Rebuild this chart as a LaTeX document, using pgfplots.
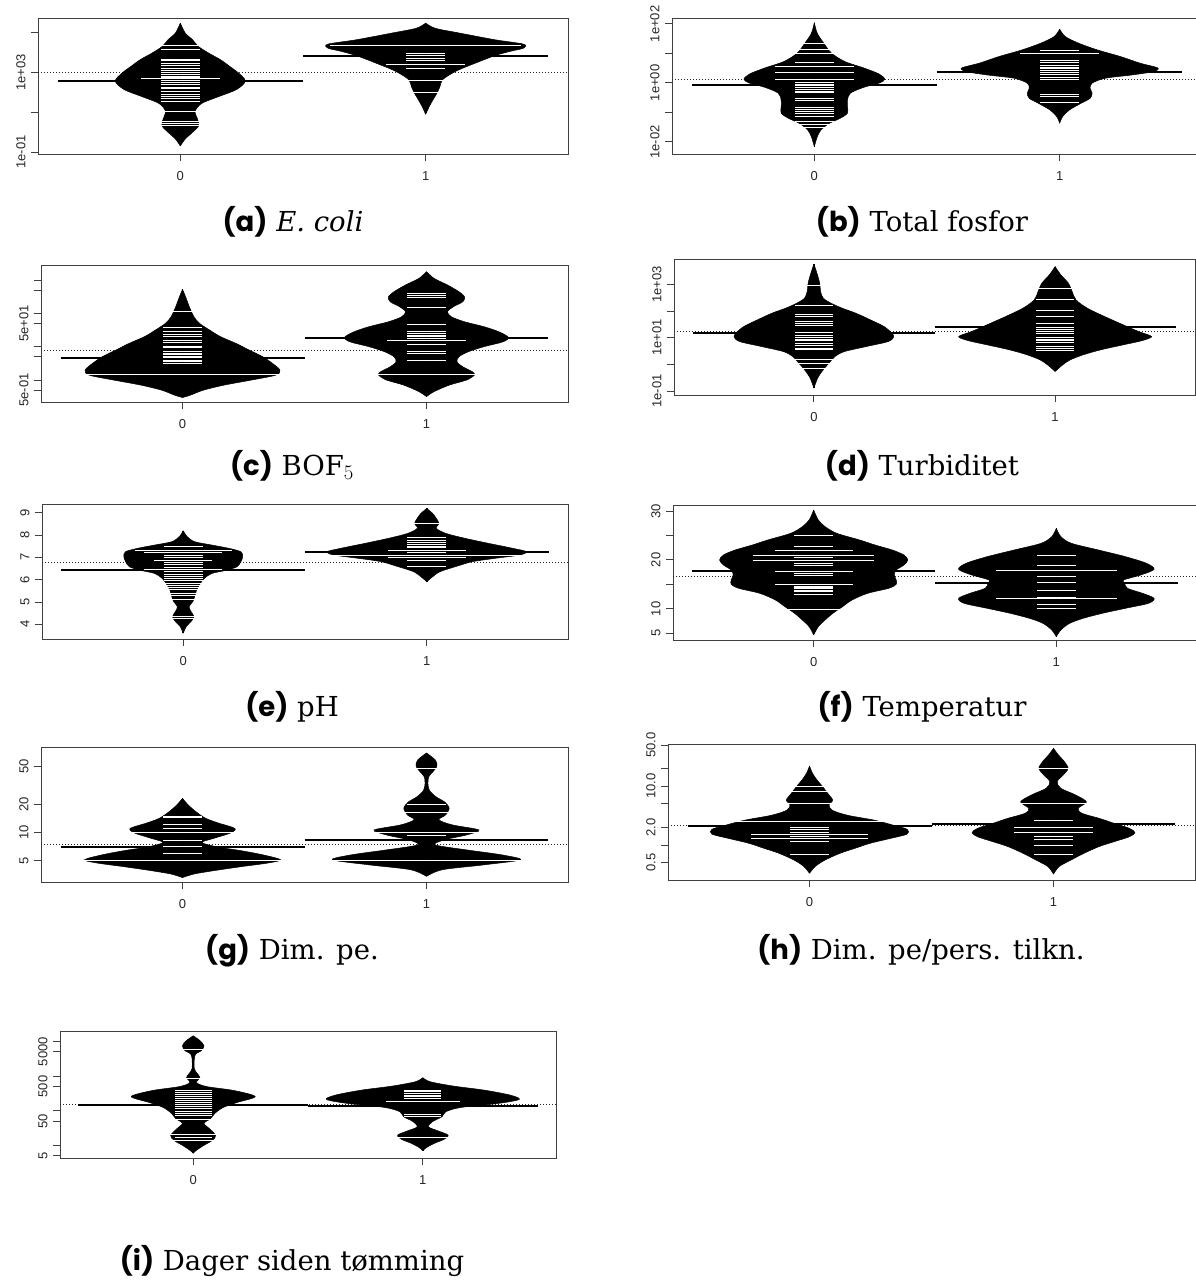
\documentclass[border=0pt]{standalone}
\usepackage{fontspec}
\setmainfont{DejaVu Serif}
\newfontfamily\lib{Liberation Sans}
\newfontfamily\pop{Poppins}
\usepackage{pgfplots}
\usepackage{pgfplotstable}
\pgfplotsset{compat=1.18}

% ---------------- (a) E. coli
\pgfplotstableread{
y w
3.1e5 0
9.8e4 0.02
4.5e4 0.05
2.1e4 0.073
9.8e3 0.114
4.5e3 0.163
2.1e3 0.20
955 0.237
372 0.265
141 0.23
66 0.163
31 0.094
17.4 0.069
9.8 0.06
4.6 0.07
2.1 0.075
0.98 0.05
0.45 0.02
0.20 0
}\pAa
\pgfplotstableread{
y L
2.3e4 0.16
1.4e4 0.08
4.8e3 0.08
4.0e3 0.08
3.0e3 0.08
2.4e3 0.08
1.7e3 0.08
1.3e3 0.08
960 0.08
760 0.08
660 0.08
580 0.08
500 0.16
400 0.08
300 0.08
240 0.08
185 0.08
150 0.08
117 0.08
79 0.08
63 0.08
50 0.08
37 0.08
10.4 0.08
3.4 0.08
2.8 0.08
2.1 0.16
}\lAa
\pgfplotstableread{
y w
3.1e5 0
1.7e5 0.039
9.6e4 0.141
4.5e4 0.282
2.7e4 0.399
1.7e4 0.399
1.17e4 0.344
7.1e3 0.282
3.0e3 0.203
1.2e3 0.125
450 0.070
210 0.059
96 0.047
45 0.031
21 0.016
7.9 0
}\pAb
\pgfplotstableread{
y L
2.3e4 0.39
8.9e3 0.08
7.1e3 0.08
5.4e3 0.08
4.0e3 0.08
2.5e3 0.16
1.6e3 0.08
400 0.08
96 0.08
}\lAb
% ---------------- (b) Total fosfor
\pgfplotstableread{
y w
110 0
48 0.012
22 0.039
10.2 0.070
5.3 0.124
3.2 0.202
2.0 0.264
1.33 0.287
0.98 0.264
0.71 0.202
0.45 0.147
0.26 0.135
0.158 0.135
0.094 0.135
0.063 0.105
0.043 0.062
0.026 0.028
0.015 0.012
0.0069 0
}\pBa
\pgfplotstableread{
y L
21 0.08
14 0.08
10.2 0.08
5.0 0.08
3.6 0.16
2.3 0.16
1.33 0.16
1.02 0.08
0.90 0.08
0.79 0.08
0.69 0.08
0.61 0.08
0.53 0.08
0.47 0.08
0.29 0.08
0.25 0.08
0.15 0.08
0.13 0.08
0.107 0.08
0.089 0.08
0.072 0.08
0.049 0.08
0.038 0.08
0.031 0.08
}\lBa
\pgfplotstableread{
y w
66 0
37 0.023
22 0.078
13 0.155
7.8 0.248
4.7 0.326
3.2 0.40
2.4 0.38
1.86 0.295
1.44 0.186
0.98 0.132
0.66 0.124
0.45 0.132
0.30 0.124
0.20 0.085
0.12 0.039
0.072 0.012
0.043 0
}\pBb
\pgfplotstableread{
y L
12.5 0.08
10.2 0.16
5.6 0.08
5.0 0.08
3.9 0.08
3.4 0.08
3.0 0.08
2.6 0.08
2.2 0.08
1.86 0.08
1.56 0.08
1.33 0.08
0.41 0.08
0.36 0.08
0.21 0.08
}\lBb
% ---------------- (c) BOF5
\pgfplotstableread{
y w
525 0
316 0.0125
158 0.028
79 0.047
50 0.070
32 0.110
20 0.156
12.6 0.219
7.9 0.274
5.0 0.329
3.2 0.368
2.0 0.399
1.41 0.383
1.0 0.282
0.71 0.172
0.50 0.086
0.35 0.031
0.30 0
}\pCa
\pgfplotstableread{
y L
112 0.08
38 0.08
29.5 0.08
24 0.08
20 0.08
15.8 0.08
13.2 0.08
10.5 0.08
9.3 0.08
7.1 0.08
6.3 0.08
5.9 0.08
5.2 0.08
4.8 0.08
4.0 0.08
3.5 0.08
3.2 0.08
1.48 0.48
}\lCa
\pgfplotstableread{
y w
1780 0
1120 0.031
710 0.086
447 0.133
316 0.156
224 0.149
158 0.110
112 0.086
79 0.102
56 0.156
40 0.235
28 0.297
19 0.336
14 0.313
10 0.235
7.1 0.172
5.0 0.133
3.5 0.125
2.5 0.149
1.78 0.188
1.41 0.196
1.0 0.164
0.71 0.094
0.45 0.031
0.32 0
}\pCb
\pgfplotstableread{
y L
400 0.08
340 0.08
295 0.08
150 0.08
48 0.08
29.5 0.08
25 0.08
22 0.08
20 0.08
17.8 0.08
15.8 0.16
11.7 0.08
7.1 0.08
6.3 0.08
4.0 0.08
1.48 0.32
}\lCb
% ---------------- (d) Turbiditet
\pgfplotstableread{
y w
5700 0
2600 0.0126
1100 0.024
525 0.028
300 0.039
195 0.071
126 0.118
83 0.173
47 0.233
26 0.291
14.8 0.323
10.5 0.331
7.1 0.307
4.7 0.220
3.0 0.126
1.95 0.087
1.12 0.063
0.63 0.039
0.31 0.016
0.129 0
}\pDa
\pgfplotstableread{
y L
870 0.08
155 0.08
76 0.08
62 0.08
40 0.08
33 0.08
27.5 0.08
15.5 0.08
12.6 0.08
10.5 0.08
8.7 0.08
7.6 0.08
6.2 0.08
5.0 0.08
4.1 0.08
3.5 0.08
1.48 0.08
1.12 0.08
0.72 0.08
}\lDa
\pgfplotstableread{
y w
4600 0
2240 0.024
1100 0.055
525 0.071
257 0.087
126 0.134
62 0.205
30 0.283
17 0.346
11 0.40
7.8 0.362
5.4 0.283
3.5 0.189
2.3 0.118
1.48 0.063
0.95 0.031
0.54 0
}\pDb
\pgfplotstableread{
y L
710 0.08
275 0.08
102 0.08
62 0.08
35 0.08
24.5 0.08
19.5 0.08
17 0.08
14.8 0.08
12.6 0.08
11.7 0.08
10.5 0.08
8.7 0.08
7.8 0.08
6.6 0.08
4.7 0.08
4.1 0.08
3.2 0.08
}\lDb
% ---------------- (e) pH
\pgfplotstableread{
y w
8.19 0
7.93 0.016
7.70 0.047
7.55 0.118
7.40 0.189
7.25 0.237
7.03 0.244
6.81 0.237
6.58 0.221
6.43 0.181
6.28 0.118
6.06 0.087
5.84 0.071
5.54 0.055
5.24 0.047
5.01 0.039
4.79 0.024
4.57 0.032
4.34 0.044
4.12 0.032
3.90 0.0126
3.60 0
}\pEa
\pgfplotstableread{
y L
7.48 0.08
7.30 0.20
7.22 0.16
7.10 0.08
6.99 0.08
6.88 0.12
6.76 0.08
6.66 0.08
6.55 0.08
6.46 0.16
6.36 0.08
6.25 0.08
6.16 0.08
6.06 0.08
5.96 0.08
5.84 0.08
5.73 0.08
5.64 0.08
5.54 0.08
5.39 0.08
5.27 0.08
5.13 0.16
4.34 0.08
4.27 0.08
}\lEa
\pgfplotstableread{
y w
9.19 0
8.97 0.024
8.75 0.039
8.52 0.050
8.30 0.039
8.07 0.079
7.85 0.158
7.63 0.252
7.40 0.355
7.25 0.41
7.10 0.38
6.96 0.284
6.81 0.189
6.61 0.126
6.36 0.055
6.13 0.024
5.91 0
}\pEb
\pgfplotstableread{
y L
8.52 0.08
7.90 0.08
7.75 0.08
7.67 0.08
7.58 0.08
7.51 0.08
7.43 0.08
7.33 0.16
7.21 0.08
7.10 0.44
6.99 0.16
6.84 0.08
6.61 0.08
}\lEb
% ---------------- (f) Temperatur
\pgfplotstableread{
y w
30.2 0
28.16 0.019
26.80 0.047
25.44 0.095
24.07 0.190
23.05 0.253
22.03 0.324
21.01 0.372
19.99 0.388
18.96 0.372
17.94 0.340
16.92 0.332
15.90 0.340
15.01 0.340
14.20 0.309
13.17 0.222
11.81 0.158
10.45 0.119
9.09 0.079
7.72 0.047
6.36 0.019
4.66 0
}\pFa
\pgfplotstableread{
y L
25.10 0.08
22.85 0.08
21.89 0.16
20.87 0.25
20.46 0.08
19.99 0.25
19.31 0.08
18.96 0.08
17.60 0.16
17.26 0.08
16.92 0.08
15.01 0.16
14.67 0.08
14.40 0.08
14.13 0.08
13.86 0.08
13.52 0.08
13.04 0.08
9.97 0.16
}\lFa
\pgfplotstableread{
y w
26.46 0
24.75 0.019
23.39 0.063
22.03 0.174
20.67 0.285
19.31 0.372
18.08 0.403
16.92 0.348
15.90 0.277
15.22 0.282
14.20 0.293
13.17 0.356
12.15 0.403
11.13 0.380
10.11 0.285
9.09 0.190
8.07 0.111
7.04 0.055
5.68 0.019
4.32 0
}\pFb
\pgfplotstableread{
y L
20.87 0.08
18.83 0.08
17.94 0.25
16.58 0.08
15.35 0.08
13.86 0.08
12.36 0.08
12.08 0.25
10.93 0.08
10.11 0.08
}\lFb
% ---------------- (g) Dim. pe.
\pgfplotstableread{
y w
23 0
19.5 0.024
16.6 0.055
14.1 0.095
12.5 0.150
11.0 0.215
9.8 0.195
8.6 0.126
7.8 0.080
7.0 0.142
6.4 0.237
5.75 0.331
5.1 0.402
4.7 0.347
4.3 0.237
3.9 0.126
3.6 0.047
3.3 0
}\pGa
\pgfplotstableread{
y L
14.9 0.08
14.3 0.08
12.2 0.08
11.0 0.08
10.0 0.48
8.2 0.08
7.0 0.08
6.0 0.08
5.0 0.48
}\lGa
\pgfplotstableread{
y w
70 0
59 0.036
51 0.043
44 0.026
39 0.009
33 0.006
28 0.012
24 0.038
21 0.075
18 0.093
15.3 0.078
13.6 0.051
12 0.106
10.6 0.215
9.4 0.165
8.3 0.072
7.35 0.036
6.5 0.165
5.75 0.31
5.1 0.385
4.5 0.233
4.0 0.065
3.4 0
}\pGb
\pgfplotstableread{
y L
48 0.08
20 0.08
16.2 0.16
10.0 0.40
9.2 0.08
5.0 0.42
}\lGb
% ---------------- (h) Dim. pe/pers. tilkn.
\pgfplotstableread{
y w
22 0
16.5 0.0124
12.7 0.031
9.8 0.054
7.5 0.075
5.8 0.095
4.8 0.080
3.9 0.093
3.2 0.156
2.65 0.264
2.18 0.342
1.85 0.40
1.53 0.40
1.30 0.334
1.07 0.249
0.88 0.187
0.72 0.124
0.55 0.062
0.43 0.023
0.33 0
}\pHa
\pgfplotstableread{
y L
10.0 0.08
8.05 0.08
5.1 0.24
2.5 0.40
1.97 0.08
1.87 0.08
1.64 0.08
1.53 0.24
1.42 0.08
1.30 0.24
1.14 0.08
0.70 0.08
}\lHa
\pgfplotstableread{
y w
44 0
34 0.02
26 0.045
20 0.06
15.5 0.04
11.9 0.015
9.2 0.03
7.1 0.09
5.4 0.135
4.2 0.101
3.45 0.117
2.84 0.187
2.33 0.249
1.92 0.311
1.62 0.334
1.38 0.311
1.14 0.249
0.94 0.187
0.72 0.124
0.55 0.070
0.43 0.023
0.32 0
}\pHb
\pgfplotstableread{
y L
20 0.08
5.1 0.16
2.65 0.08
2.0 0.16
1.64 0.16
1.42 0.08
1.26 0.08
0.97 0.08
0.70 0.08
}\lHb
% ---------------- (i) Dager siden tomming
\pgfplotstableread{
y w
14400 0
10400 0.03
7400 0.047
5300 0.035
4400 0.012
3150 0.005
1620 0.005
1170 0.018
900 0.029
640 0.015
493 0.06
380 0.178
255 0.27
171 0.19
123 0.13
83 0.094
59 0.076
43 0.047
31 0.069
19.3 0.098
13.8 0.083
10 0.047
7.1 0.013
5.9 0
}\pIa
\pgfplotstableread{
y L
5700 0.08
850 0.08
380 0.08
330 0.08
290 0.08
255 0.08
225 0.08
195 0.08
170 0.08
150 0.08
130 0.08
112 0.08
97 0.08
84 0.08
73 0.08
56 0.08
20 0.16
16.5 0.08
13.8 0.16
}\lIa
\pgfplotstableread{
y w
890 0
680 0.033
510 0.134
390 0.268
281 0.38
211 0.42
162 0.33
124 0.167
93 0.100
67 0.084
48 0.042
34 0.025
26 0.067
19.7 0.11
14.8 0.092
11.4 0.050
8.7 0.017
7.0 0
}\pIb
\pgfplotstableread{
y L
392 0.08
351 0.08
314 0.08
281 0.08
252 0.08
225 0.08
181 0.16
78 0.08
70 0.08
16.5 0.16
}\lIb

\newcommand\tickf{\lib\fontsize{13}{15}\selectfont}
\newcommand\capf{\fontsize{27.5}{32}\selectfont}
\newcommand\lab[1]{{\pop\bfseries #1}}

\pgfplotsset{bp/.style={
  scale only axis, anchor=south west,
  xmin=-0.58, xmax=1.58,
  xtick={0,1}, xticklabels={0,1},
  tick align=outside, major tick length=7pt,
  xtick pos=left, ytick pos=left,
  axis line style={draw=black!75, line width=0.9pt},
  tick style={draw=black!75, line width=0.9pt},
  minor tick length=0pt, minor tick style={draw=none},
  ticklabel style={font=\tickf, text=black!85},
  yticklabel style={rotate=90, anchor=south},
  xticklabel shift=7pt, yticklabel shift=2pt,
  clip=true,
}}

% bean: two filled halves (each implicitly closed along the centre) + centre line
\newcommand\bean[2]{%
 \addplot[fill=black, draw=black, line width=0.5pt, mark=none, smooth, tension=0.5, forget plot] table[x expr=#1+\thisrow{w}, y=y] {#2};
 \addplot[fill=black, draw=black, line width=0.5pt, mark=none, smooth, tension=0.5, forget plot] table[x expr=#1-\thisrow{w}, y=y] {#2};
 \addplot[black, line width=1.5pt, mark=none, forget plot] table[x expr=#1, y=y] {#2};
}
\newcommand\blines[2]{%
 \addplot[draw=none, mark=none, forget plot, error bars/.cd, x dir=both, x explicit, error mark=none,
   error bar style={draw=white, line width=0.9pt, blend mode=difference}]
   table[x expr=#1, y=y, x error=L] {#2};
}
\newcommand\mline[3]{\addplot[black, line width=2pt, forget plot] coordinates {(#1,#3) (#2,#3)};}
\newcommand\omean[1]{\addplot[black!85, line width=0.9pt, dash pattern=on 1.2pt off 1.8pt, forget plot] coordinates {(-0.58,#1) (1.58,#1)};}

\begin{document}
\begin{tikzpicture}
\path[use as bounding box] (0pt,0pt) rectangle (1195pt,-1280pt);
% (a)
\begin{axis}[bp, at={(38pt,-154pt)}, width=530pt, height=136pt, ymode=log, ymin=0.079, ymax=5.6e5,
  ytick={0.1,10,1000,100000}, yticklabels={1e-01,{},1e+03,{}}]
\omean{1000}
\bean{0}{\pAa}
\bean{1}{\pAb}
\mline{-0.5}{0.5}{370}
\mline{0.5}{1.5}{7100}
\blines{0}{\lAa}
\blines{1}{\lAb}
\end{axis}
% (b)
\begin{axis}[bp, at={(672pt,-154pt)}, width=530pt, height=136pt, ymode=log, ymin=0.0039, ymax=158,
  ytick={0.01,0.1,1,10,100}, yticklabels={1e-02,{},1e+00,{},1e+02}]
\omean{1.26}
\bean{0}{\pBa}
\bean{1}{\pBb}
\mline{-0.5}{0.5}{0.86}
\mline{0.5}{1.5}{2.4}
\blines{0}{\lBa}
\blines{1}{\lBb}
\end{axis}
% (c)
\begin{axis}[bp, at={(41pt,-402pt)}, width=527pt, height=137pt, ymode=log, ymin=0.22, ymax=2820,
  ytick={0.5,1,5,10,50,100,500,1000}, yticklabels={5e-01,{},{},{},5e+01,{},{},{}}]
\omean{7.9}
\bean{0}{\pCa}
\bean{1}{\pCb}
\mline{-0.5}{0.5}{4.7}
\mline{0.5}{1.5}{17.8}
\blines{0}{\lCa}
\blines{1}{\lCb}
\end{axis}
% (d)
\begin{axis}[bp, at={(674pt,-395pt)}, width=521pt, height=136pt, ymode=log, ymin=0.071, ymax=8830,
  ytick={0.1,1,10,100,1000}, yticklabels={1e-01,{},1e+01,{},1e+03}]
\omean{17.8}
\bean{0}{\pDa}
\bean{1}{\pDb}
\mline{-0.5}{0.5}{15.5}
\mline{0.5}{1.5}{24}
\blines{0}{\lDa}
\blines{1}{\lDb}
\end{axis}
% (e)
\begin{axis}[bp, at={(42pt,-639pt)}, width=526pt, height=135pt, ymin=3.34, ymax=9.39,
  ytick={4,5,6,7,8,9}, yticklabels={4,5,6,7,8,9}]
\omean{6.76}
\bean{0}{\pEa}
\bean{1}{\pEb}
\mline{-0.5}{0.5}{6.43}
\mline{0.5}{1.5}{7.25}
\blines{0}{\lEa}
\blines{1}{\lEb}
\end{axis}
% (f)
\begin{axis}[bp, at={(673pt,-640pt)}, width=524pt, height=135pt, ymin=3.63, ymax=31.23,
  ytick={5,10,15,20,25,30}, yticklabels={5,10,{},20,{},30}]
\omean{16.72}
\bean{0}{\pFa}
\bean{1}{\pFb}
\mline{-0.5}{0.5}{17.67}
\mline{0.5}{1.5}{15.22}
\blines{0}{\lFa}
\blines{1}{\lFb}
\end{axis}
% (g)
\begin{axis}[bp, at={(41pt,-882pt)}, width=527pt, height=135pt, ymode=log, ymin=2.96, ymax=81,
  ytick={5,10,20,50}, yticklabels={5,10,20,50}]
\omean{7.35}
\bean{0}{\pGa}
\bean{1}{\pGb}
\mline{-0.5}{0.5}{7.05}
\mline{0.5}{1.5}{8.3}
\blines{0}{\lGa}
\blines{1}{\lGb}
\end{axis}
% (h)
\begin{axis}[bp, at={(668pt,-880pt)}, width=527pt, height=136pt, ymode=log, ymin=0.254, ymax=52,
  ytick={0.5,1,2,5,10,20,50}, yticklabels={0.5,{},2.0,{},10.0,{},50.0}]
\omean{2.15}
\bean{0}{\pHa}
\bean{1}{\pHb}
\mline{-0.5}{0.5}{2.13}
\mline{0.5}{1.5}{2.27}
\blines{0}{\lHa}
\blines{1}{\lHb}
\end{axis}
% (i)
\begin{axis}[bp, at={(60pt,-1158pt)}, width=496pt, height=127pt, ymode=log, ymin=4.3, ymax=19800,
  ytick={5,10,50,100,500,1000,5000,10000}, yticklabels={5,{},50,{},500,{},5000,{}}]
\omean{148}
\bean{0}{\pIa}
\bean{1}{\pIb}
\mline{-0.5}{0.5}{150}
\mline{0.5}{1.5}{138}
\blines{0}{\lIa}
\blines{1}{\lIb}
\end{axis}
% captions
\node[anchor=base] at (293pt,-231pt) {\capf\lab{(a)} \textit{E. coli}};
\node[anchor=base] at (922pt,-231pt) {\capf\lab{(b)} Total fosfor};
\node[anchor=base] at (292pt,-475pt) {\capf\lab{(c)} BOF$_5$};
\node[anchor=base] at (922pt,-475pt) {\capf\lab{(d)} Turbiditet};
\node[anchor=base] at (292pt,-716pt) {\capf\lab{(e)} pH};
\node[anchor=base] at (922pt,-716pt) {\capf\lab{(f)} Temperatur};
\node[anchor=base] at (292pt,-959pt) {\capf\lab{(g)} Dim. pe.};
\node[anchor=base] at (921pt,-959pt) {\capf\lab{(h)} Dim. pe/pers. tilkn.};
\node[anchor=base] at (292pt,-1270pt) {\capf\lab{(i)} Dager siden tømming};
\end{tikzpicture}
\end{document}
